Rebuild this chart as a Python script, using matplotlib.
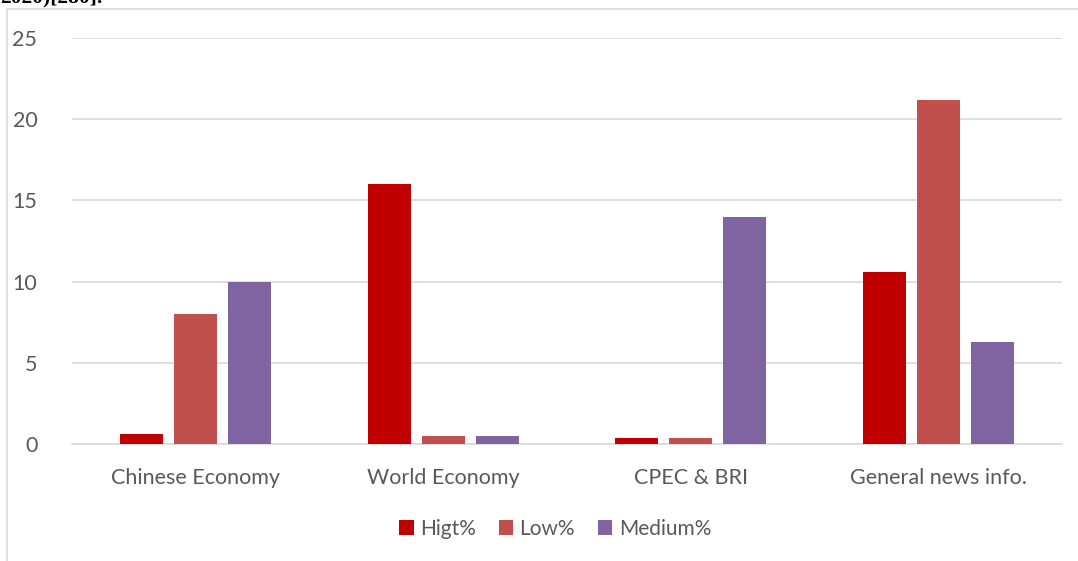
import matplotlib.pyplot as plt
import numpy as np
from matplotlib.patches import Rectangle

categories = ['Chinese Economy', 'World Economy', 'CPEC & BRI', 'General news info.']
high = [0.6, 16, 0.4, 10.6]
low = [8, 0.5, 0.4, 21.2]
medium = [10, 0.5, 14, 6.3]
series_names = ['Higt%', 'Low%', 'Medium%']
colors = ['#c00000', '#c0504d', '#8064a2']

plt.rcParams['font.family'] = ['Lato', 'DejaVu Sans']

W, H = 1078, 561
fig = plt.figure(figsize=(W / 100, H / 100), dpi=100)

# chart frame (gray border box)
fig.patches.append(Rectangle((7 / W, -0.01), 1.0, 1 - 9 / H + 0.01, transform=fig.transFigure,
                             fill=False, edgecolor='#d9d9d9', linewidth=1.2))
# cut-off caption text above the chart
fig.text(0 / W, 1 - 2 / H, '2020)[280].', family='Liberation Serif', fontweight='bold',
         fontsize=15.5, va='baseline', ha='left', color='black')

ax = fig.add_axes([72 / W, 1 - 444 / H, (1062 - 72) / W, (444 - 38) / H])

x = np.arange(len(categories))
bw = 0.174
step = 0.218
for i, (vals, name, c) in enumerate(zip([high, low, medium], series_names, colors)):
    ax.bar(x + (i - 1) * step, vals, width=bw, color=c, label=name, zorder=3)

ax.set_xlim(-0.5, len(categories) - 0.5)
ax.set_ylim(0, 25)
ax.set_yticks([0, 5, 10, 15, 20, 25])
ax.yaxis.grid(True, color='#d9d9d9', linewidth=1.2, zorder=0)
ax.set_xticks(x)
ax.set_xticklabels(categories)
ax.tick_params(axis='both', length=0, labelsize=15.5, colors='#595959')
ax.tick_params(axis='y', pad=25)
ax.tick_params(axis='x', pad=17)
for s in ['top', 'right', 'left']:
    ax.spines[s].set_visible(False)
ax.spines['bottom'].set_color('#d9d9d9')
ax.spines['bottom'].set_linewidth(1.2)

leg = fig.legend(loc='center', bbox_to_anchor=(555 / W, 1 - 529 / H), ncol=3, frameon=False,
                 fontsize=15, handlelength=0.7, handleheight=0.7, handletextpad=0.3,
                 columnspacing=1.1)
for t in leg.get_texts():
    t.set_color('#595959')

fig.savefig('out.png', dpi=100)
